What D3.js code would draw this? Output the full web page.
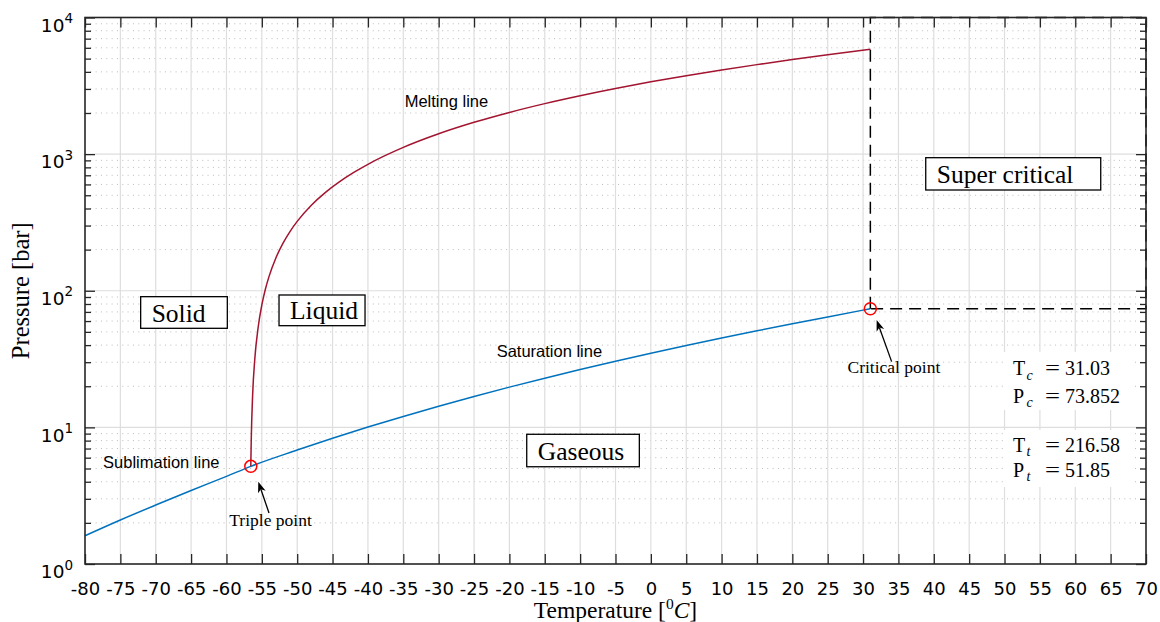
<!DOCTYPE html>
<html>
<head>
<meta charset="utf-8">
<script src="https://cdn.jsdelivr.net/npm/d3@7"></script>
<style>
  body { margin: 0; background: #fff; }
  svg text { fill: #000; }
</style>
</head>
<body>
<svg id="chart" width="1160" height="622"></svg>
<script>
// CO2 phase diagram: temperature [°C] vs pressure [bar] on a log axis

// Sublimation + saturation (vapour pressure) curve
const satT = [-80, -75, -70, -65, -60, -56.56, -50, -45, -40, -35, -30, -25, -20, -15, -10, -5, 0, 5, 10, 15, 20, 25, 30, 31.03];
const satP = [1.61, 2.10, 2.70, 3.45, 4.38, 5.185, 6.82, 8.32, 10.05, 12.02, 14.28, 16.83, 19.70, 22.91, 26.49, 30.46, 34.85, 39.69, 45.02, 50.87, 57.29, 64.34, 72.14, 73.852];

// Melting curve (solid / liquid boundary)
const meltT = [-56.56, -56.5, -56.3, -56.0, -55.5, -55.0, -54.5, -54.0, -53.0, -52.0, -51.0, -50.0, -48.0, -46.0, -44.0, -42.0, -40.0, -35.0, -30.0, -25.0, -20.0, -15.0, -10.0, -5.0, 0, 5, 10, 15, 20, 25, 31.03];
const meltP = [5.185, 7.9, 17.3, 31.4, 55.0, 78.7, 102.5, 126.4, 174.6, 223.3, 272.4, 321.9, 422.5, 524.8, 628.9, 734.8, 842.6, 1120, 1409, 1709, 2020, 2343, 2677, 3023, 3380, 3748, 4127, 4519, 4921, 5334, 5848];

const triplePoint = { T: -56.56, P: 5.185 };
const criticalPoint = { T: 31.03, P: 73.852 };

// Axis ticks
const xTicks = d3.range(-80, 71, 5);
const yDecades = [0, 1, 2, 3, 4];
const yMinor = d3.range(0, 4).flatMap(d => d3.range(2, 10).map(k => k * Math.pow(10, d)));

// Region labels (boxes given as temperature / pressure extents)
const regionNames = ["Solid", "Liquid", "Super critical", "Gaseous"];
const regionT = [[-72.13, -59.88], [-52.57, -40.41], [38.86, 63.6], [-17.55, -1.63]];
const regionP = [[53.1, 90.5], [55.5, 93.1], [546.3, 941.7], [5.15, 8.90]];

// Property readouts
const infoSymbols = [["T", "c"], ["P", "c"], ["T", "t"], ["P", "t"]];
const infoValues = ["31.03", "73.852", "216.58", "51.85"];

const plotL = 85, plotR = 1146, plotT = 17.5, plotB = 564;

const x = d3.scaleLinear().domain([-80, 70]).range([plotL, plotR]);
const y = d3.scaleLog().domain([1, 1e4]).range([plotB, plotT]);

const svg = d3.select("#chart");
const axisColor = "#262626";

// ---- grid ----
const grid = svg.append("g");
grid.selectAll(".ymin").data(yMinor).join("line")
  .attr("x1", plotL).attr("x2", plotR)
  .attr("y1", d => y(d)).attr("y2", d => y(d))
  .attr("stroke", "#bdbdbd").attr("stroke-width", 1)
  .attr("stroke-dasharray", "1,4.33");
grid.selectAll(".xg").data(xTicks.slice(1, -1)).join("line")
  .attr("x1", d => x(d)).attr("x2", d => x(d))
  .attr("y1", plotT).attr("y2", plotB)
  .attr("stroke", "#dedede").attr("stroke-width", 1.2);
grid.selectAll(".yg").data(yDecades.slice(1, -1)).join("line")
  .attr("x1", plotL).attr("x2", plotR)
  .attr("y1", d => y(Math.pow(10, d))).attr("y2", d => y(Math.pow(10, d)))
  .attr("stroke", "#dedede").attr("stroke-width", 1.2);

// ---- curves ----
const line = d3.line().x(d => x(d[0])).y(d => y(d[1])).curve(d3.curveMonotoneX);
svg.append("path")
  .datum(satT.map((t, i) => [t, satP[i]]))
  .attr("d", line).attr("fill", "none")
  .attr("stroke", "#0072BD").attr("stroke-width", 1.5);
svg.append("path")
  .datum(meltT.map((t, i) => [t, meltP[i]]))
  .attr("d", line).attr("fill", "none")
  .attr("stroke", "#A2142F").attr("stroke-width", 1.5);

// supercritical region outline
const rectPts = [[criticalPoint.T, criticalPoint.P], [criticalPoint.T, 1e4], [70, 1e4], [70, criticalPoint.P], [criticalPoint.T, criticalPoint.P]];
svg.append("path")
  .attr("d", d3.line().x(d => x(d[0])).y(d => y(d[1]))(rectPts))
  .attr("fill", "none").attr("stroke", "#000")
  .attr("stroke-width", 1.5).attr("stroke-dasharray", "12,7");

// triple and critical points
svg.selectAll(".pt").data([triplePoint, criticalPoint]).join("circle")
  .attr("cx", d => x(d.T)).attr("cy", d => y(d.P)).attr("r", 6)
  .attr("fill", "none").attr("stroke", "#ff0000").attr("stroke-width", 1.5);

// ---- arrows ----
function arrow(x1, y1, x2, y2) {
  const a = Math.atan2(y2 - y1, x2 - x1);
  const L = 11, Wd = 4, back = 3;
  const ux = Math.cos(a), uy = Math.sin(a), px = -uy, py = ux;
  svg.append("line")
    .attr("x1", x1).attr("y1", y1)
    .attr("x2", x2 - ux * (L - back)).attr("y2", y2 - uy * (L - back))
    .attr("stroke", "#000").attr("stroke-width", 1.3);
  const pts = [
    [x2, y2],
    [x2 - ux * L + px * Wd, y2 - uy * L + py * Wd],
    [x2 - ux * (L - back), y2 - uy * (L - back)],
    [x2 - ux * L - px * Wd, y2 - uy * L - py * Wd]
  ];
  svg.append("path").attr("d", "M" + pts.map(p => p.join(",")).join("L") + "Z").attr("fill", "#000");
}
{
  const tx = x(triplePoint.T), ty = y(triplePoint.P);
  arrow(tx + 18.2, ty + 46.6, tx + 7.5, ty + 15.3);
  const cx = x(criticalPoint.T), cy = y(criticalPoint.P);
  arrow(cx + 21.3, cy + 52.9, cx + 6.3, cy + 11.2);
}

// ---- line labels ----
const sans = "'Liberation Sans', Arial, Helvetica, sans-serif";
const serif = "'Liberation Serif', 'Times New Roman', serif";
const lineLabels = [
  { text: "Melting line", T: -34.8, P: 2220 },
  { text: "Saturation line", T: -21.8, P: 32.9 },
  { text: "Sublimation line", T: -77.45, P: 5.02 }
];
svg.selectAll(".ll").data(lineLabels).join("text")
  .attr("x", d => x(d.T)).attr("y", d => y(d.P))
  .attr("font-family", sans).attr("font-size", 16.5)
  .text(d => d.text);

const pointLabels = [
  { text: "Triple point", T: -59.6, P: 1.9 },
  { text: "Critical point", T: 27.8, P: 24.9 }
];
svg.selectAll(".pl").data(pointLabels).join("text")
  .attr("x", d => x(d.T)).attr("y", d => y(d.P))
  .attr("font-family", serif).attr("font-size", 17.5)
  .text(d => d.text);

// ---- region boxes ----
regionNames.forEach((name, i) => {
  const x0 = x(regionT[i][0]), x1 = x(regionT[i][1]);
  const y0 = y(regionP[i][1]), y1 = y(regionP[i][0]);
  svg.append("rect").attr("x", x0).attr("y", y0)
    .attr("width", x1 - x0).attr("height", y1 - y0)
    .attr("fill", "#fff").attr("stroke", "#000").attr("stroke-width", 1.3);
  svg.append("text").attr("x", x0 + 11).attr("y", y1 - 6.5)
    .attr("font-family", serif).attr("font-size", 25.5)
    .text(name);
});

// ---- property readouts (two white panels) ----
const panelT = [49.78, 68.3];
const panelP = [[13.4, 35.6], [3.66, 9.57]];
const baseOffsets = [[23, 50.7], [21.7, 46.7]];
panelP.forEach((pp, j) => {
  const x0 = x(panelT[0]), x1 = x(panelT[1]);
  const y0 = y(pp[1]), y1 = y(pp[0]);
  svg.append("rect").attr("x", x0).attr("y", y0)
    .attr("width", x1 - x0).attr("height", y1 - y0).attr("fill", "#fff");
  [0, 1].forEach(k => {
    const idx = j * 2 + k;
    const by = y0 + baseOffsets[j][k];
    const g = svg.append("g").attr("font-family", serif);
    g.append("text").attr("x", x0 + 10).attr("y", by).attr("font-size", 20).text(infoSymbols[idx][0]);
    g.append("text").attr("x", x0 + 23.5).attr("y", by + 4.5).attr("font-size", 14)
      .attr("font-style", "italic").text(infoSymbols[idx][1]);
    g.append("text").attr("x", x0 + 42).attr("y", by).attr("font-size", 20)
      .attr("textLength", 15).attr("lengthAdjust", "spacingAndGlyphs").text("=");
    g.append("text").attr("x", x0 + 62).attr("y", by).attr("font-size", 20).text(infoValues[idx]);
  });
});

// ---- axes ----
const tickFont = "'DejaVu Sans', Verdana, sans-serif";
const gx = svg.append("g").attr("transform", `translate(0,${plotB})`)
  .call(d3.axisBottom(x).tickValues(xTicks).tickSize(-10).tickPadding(18).tickFormat(d3.format("d")));
gx.selectAll("text").attr("font-family", tickFont).attr("font-size", 18).attr("fill", axisColor)
  .text(d => String(d));
const gxt = svg.append("g").attr("transform", `translate(0,${plotT})`)
  .call(d3.axisTop(x).tickValues(xTicks).tickSize(-10).tickFormat(""));

const decadeVals = yDecades.map(d => Math.pow(10, d));
const gyl = svg.append("g").attr("transform", `translate(${plotL},0)`)
  .call(d3.axisLeft(y).tickValues(decadeVals).tickSize(-10).tickFormat(""));
const gylm = svg.append("g").attr("transform", `translate(${plotL},0)`)
  .call(d3.axisLeft(y).tickValues(yMinor).tickSize(-6).tickFormat(""));
const gyr = svg.append("g").attr("transform", `translate(${plotR},0)`)
  .call(d3.axisRight(y).tickValues(decadeVals).tickSize(-10).tickFormat(""));
const gyrm = svg.append("g").attr("transform", `translate(${plotR},0)`)
  .call(d3.axisRight(y).tickValues(yMinor).tickSize(-6).tickFormat(""));

[gx, gxt, gyl, gylm, gyr, gyrm].forEach(g => {
  g.select(".domain").remove();
  g.selectAll("line").attr("stroke", axisColor).attr("stroke-width", 1.3);
});

// decade labels 10^n
yDecades.forEach(d => {
  const ty = y(Math.pow(10, d));
  const t = svg.append("text").attr("font-family", tickFont).attr("fill", axisColor)
    .attr("text-anchor", "end").attr("x", 73).attr("y", ty + 14.2);
  t.append("tspan").attr("font-size", 18.5).text("10");
  t.append("tspan").attr("font-size", 13.5).attr("dy", -8.5).text(String(d));
});

// frame
svg.append("rect").attr("x", plotL).attr("y", plotT)
  .attr("width", plotR - plotL).attr("height", plotB - plotT)
  .attr("fill", "none").attr("stroke", axisColor).attr("stroke-width", 1.6);

// axis titles
const xl = svg.append("text").attr("x", (plotL + plotR) / 2).attr("y", 617.5)
  .attr("text-anchor", "middle").attr("font-family", serif).attr("font-size", 23.5).attr("fill", "#262626");
xl.append("tspan").text("Temperature [");
xl.append("tspan").attr("font-size", 15.5).attr("dy", -9).text("0");
xl.append("tspan").attr("font-style", "italic").attr("dy", 9).text("C");
xl.append("tspan").text("]");

svg.append("text")
  .attr("transform", `translate(28.5,${(plotT + plotB) / 2}) rotate(-90)`)
  .attr("text-anchor", "middle").attr("font-family", serif).attr("font-size", 24.5).attr("fill", "#262626")
  .text("Pressure [bar]");
</script>
</body>
</html>
